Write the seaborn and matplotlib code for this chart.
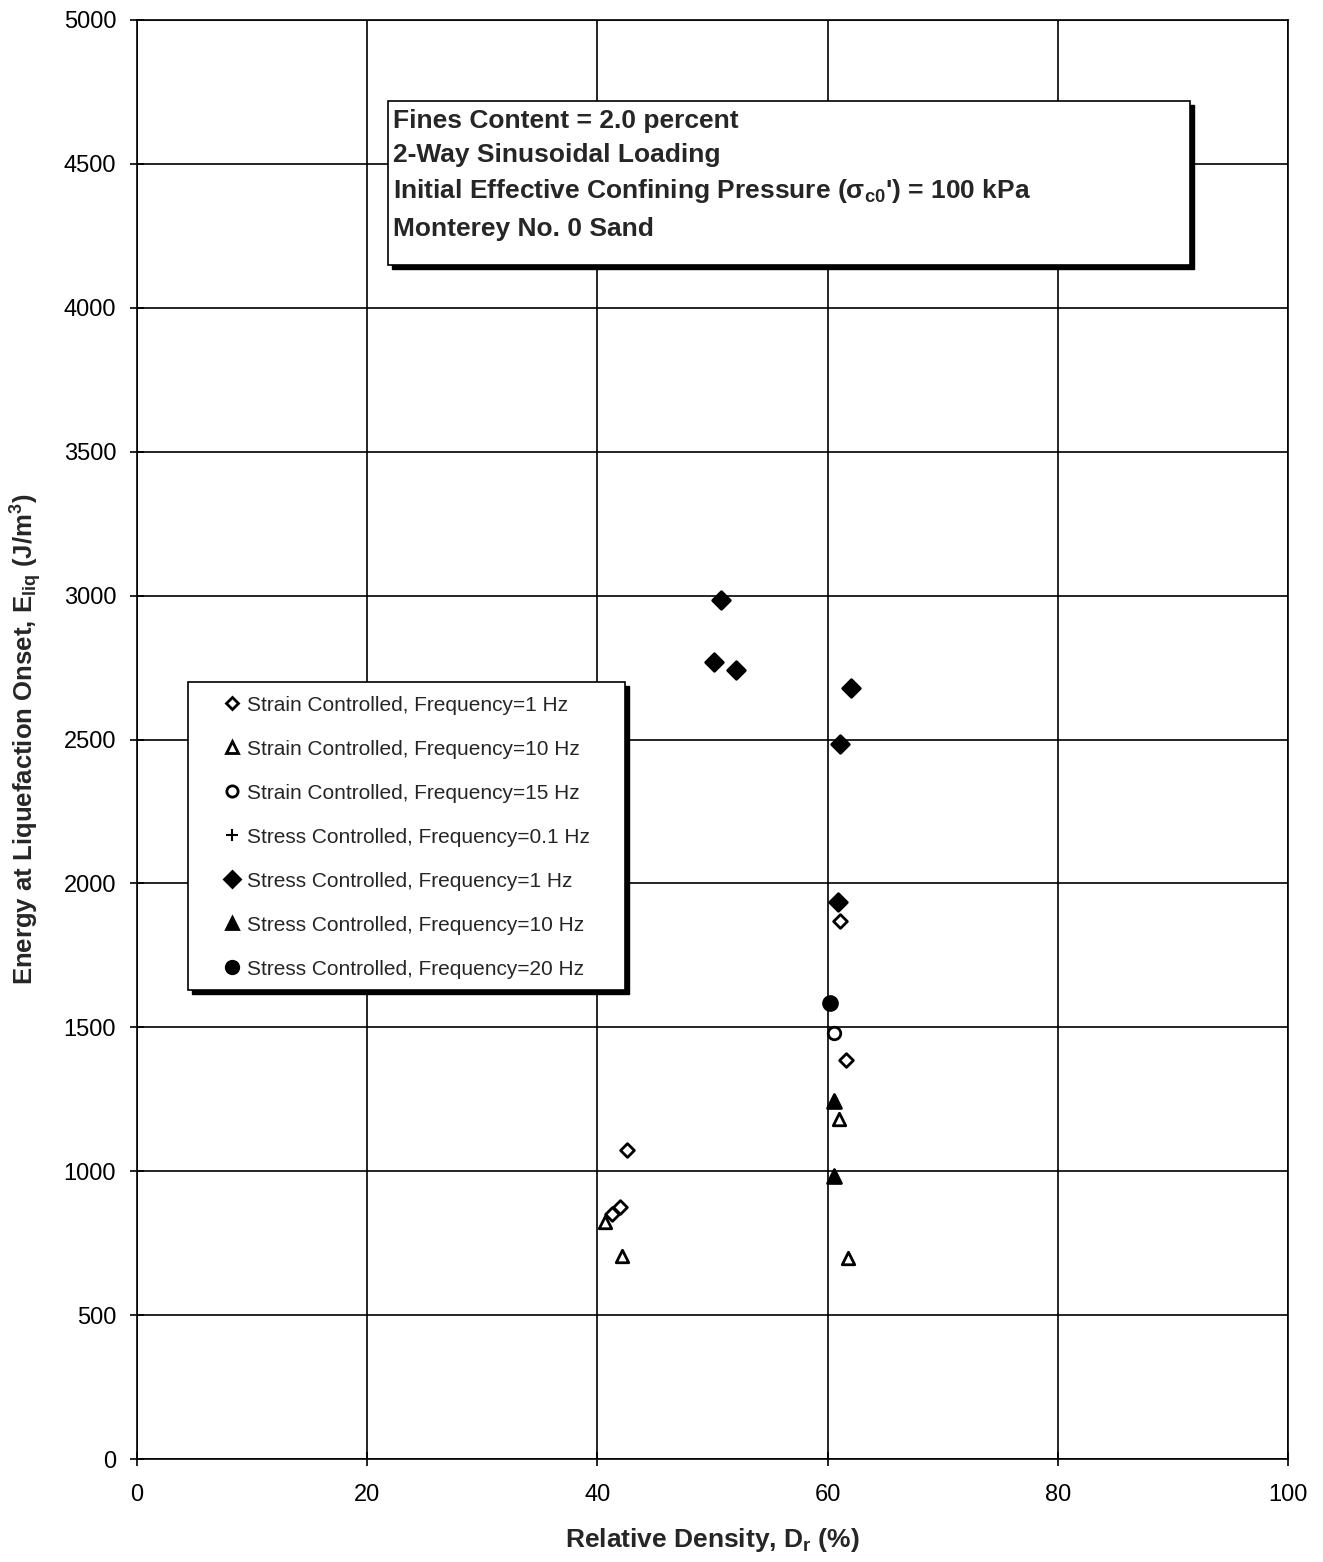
import matplotlib
matplotlib.use("Agg")
import matplotlib.pyplot as plt
import seaborn as sns
import pandas as pd
from matplotlib.lines import Line2D
from matplotlib.patches import Rectangle

# ---- data ----
strain1_x = [42.6, 42.0, 41.3, 61.1, 61.6]
strain1_y = [1075, 875, 850, 1870, 1385]
strain10_x = [40.7, 42.1, 61.0, 61.8]
strain10_y = [823, 705, 1180, 700]
strain15_x = [60.6]
strain15_y = [1482]
stress01_x = []
stress01_y = []
stress1_x = [50.7, 50.1, 52.0, 62.0, 61.1, 60.9]
stress1_y = [2985, 2770, 2740, 2680, 2485, 1935]
stress10_x = [60.6, 60.6]
stress10_y = [1245, 985]
stress20_x = [60.2]
stress20_y = [1585]

labels = ["Strain Controlled, Frequency=1 Hz",
          "Strain Controlled, Frequency=10 Hz",
          "Strain Controlled, Frequency=15 Hz",
          "Stress Controlled, Frequency=0.1 Hz",
          "Stress Controlled, Frequency=1 Hz",
          "Stress Controlled, Frequency=10 Hz",
          "Stress Controlled, Frequency=20 Hz"]
box_lines = ["Fines Content = 2.0 percent",
             "2-Way Sinusoidal Loading",
             r"Initial Effective Confining Pressure (σ$_{\mathbf{c0}}$') = 100 kPa",
             "Monterey No. 0 Sand"]

sns.set_theme(style="white")
plt.rcParams['font.family'] = ['Liberation Sans', 'DejaVu Sans']
plt.rcParams['mathtext.fontset'] = 'custom'
plt.rcParams['mathtext.rm'] = 'Liberation Sans'
plt.rcParams['mathtext.it'] = 'Liberation Sans:italic'
plt.rcParams['mathtext.bf'] = 'Liberation Sans:bold'

fig = plt.figure(figsize=(13.23, 15.62), dpi=100)
ax = fig.add_axes([0.1036, 0.0659, 0.8699, 0.9213])

series = [
    (strain1_x, strain1_y, 'D', 'white', 7),
    (strain10_x, strain10_y, '^', 'white', 9),
    (strain15_x, strain15_y, 'o', 'white', 9),
    (stress01_x, stress01_y, '+', 'black', 10),
    (stress1_x, stress1_y, 'D', 'black', 9),
    (stress10_x, stress10_y, '^', 'black', 10),
    (stress20_x, stress20_y, 'o', 'black', 10),
]
handles = []
for (xs, ys, m, fc, ms), lab in zip(series, labels):
    if len(xs) > 0:
        df = pd.DataFrame({"x": xs, "y": ys})
        sns.scatterplot(data=df, x="x", y="y", marker=m, s=ms**2,
                        facecolor=fc, edgecolor='black', linewidth=2,
                        ax=ax, zorder=5)
    handles.append(Line2D([], [], linestyle='none', marker=m,
                          markerfacecolor=fc, markeredgecolor='black',
                          color='black', markeredgewidth=2 if m != '+' else 1.5,
                          markersize=ms * 0.9))

ax.set_xlim(0, 100)
ax.set_ylim(0, 5000)
ax.set_xticks(range(0, 101, 20))
ax.set_yticks(range(0, 5001, 500))
ax.grid(True, color='black', linewidth=1.2)
for s in ax.spines.values():
    s.set_color('black')
    s.set_linewidth(1.2)
ax.tick_params(axis='both', labelsize=17, colors='black', length=10,
               width=1.2, direction='inout', bottom=True, left=True)
ax.tick_params(axis='x', pad=13)
ax.tick_params(axis='y', pad=10)
ax.set_xlabel(r"Relative Density, D$_{\mathbf{r}}$ (%)", fontsize=19, fontweight='bold', labelpad=14)
ax.set_ylabel(r"Energy at Liquefaction Onset, E$_{\mathbf{liq}}$ (J/m$^{\mathbf{3}}$)", fontsize=18.5,
              fontweight='bold', labelpad=14)


def shadow_box(x0, x1, y0, y1):
    off_x, off_y = 0.0035, -0.0028
    ax.add_patch(Rectangle((x0 + off_x, y0 + off_y), x1 - x0, y1 - y0, transform=ax.transAxes,
                           facecolor='black', edgecolor='black', zorder=8))
    ax.add_patch(Rectangle((x0, y0), x1 - x0, y1 - y0, transform=ax.transAxes,
                           facecolor='white', edgecolor='black', linewidth=1.2, zorder=9))


# legend box (manual frame) and legend
shadow_box(0.0443, 0.424, 0.326, 0.540)
leg = ax.legend(handles, labels, loc='upper left', bbox_to_anchor=(0.0617, 0.5414),
                fontsize=15, frameon=False, labelspacing=1.2, handlelength=0.8,
                handletextpad=0.3, borderpad=0.75, borderaxespad=0)
leg.set_zorder(10)

# text box
shadow_box(0.218, 0.915, 0.830, 0.944)
ys_text = [0.930, 0.906, 0.881, 0.855]
for t, yy in zip(box_lines, ys_text):
    ax.text(0.222, yy, t, transform=ax.transAxes, fontsize=19, fontweight='bold',
            va='center', ha='left', zorder=10)

fig.savefig("out.png", dpi=100)
